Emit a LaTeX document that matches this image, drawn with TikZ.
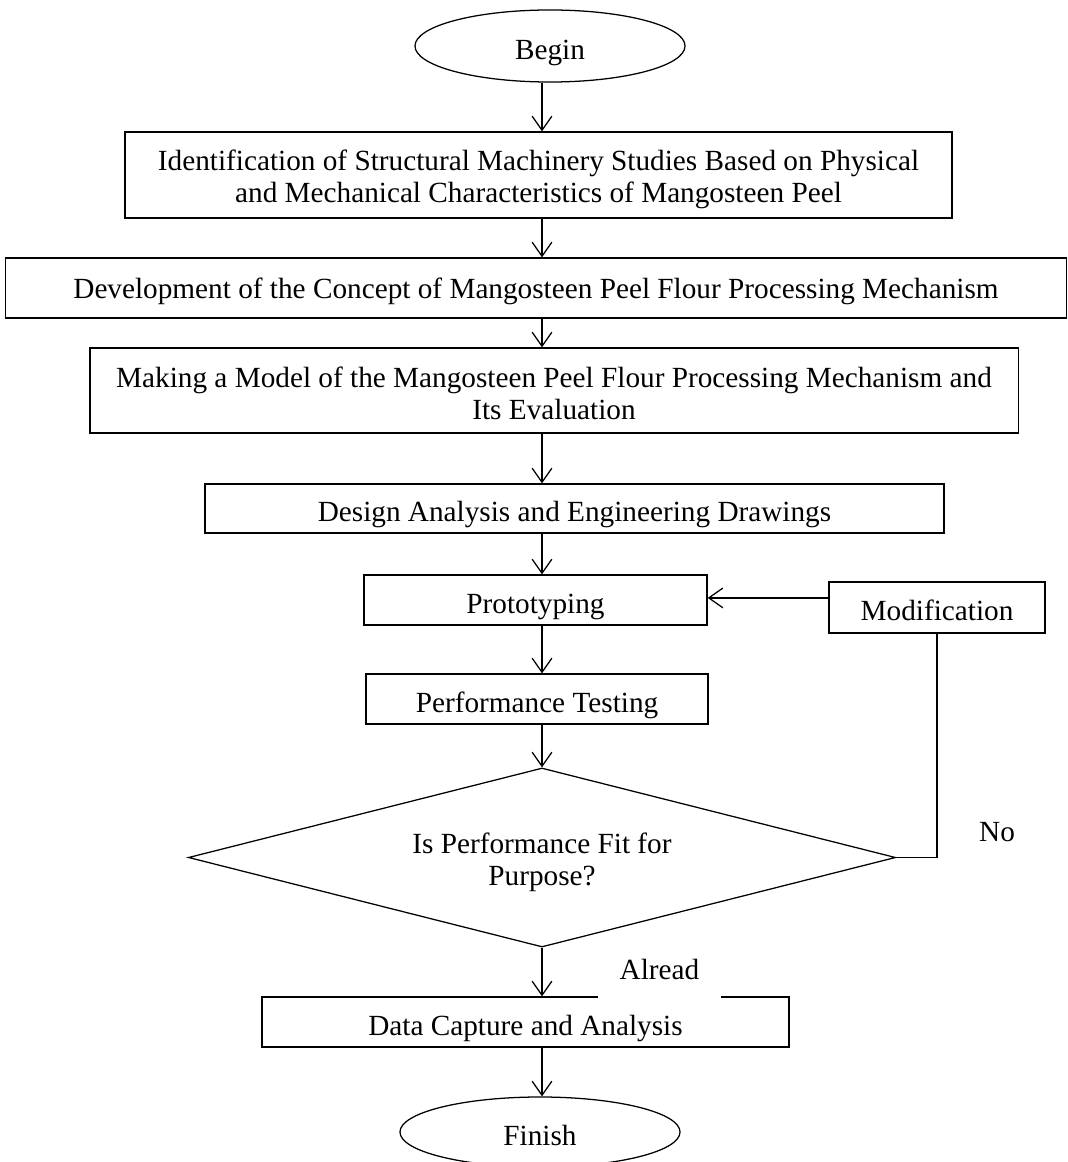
\documentclass[tikz,border=0pt]{standalone}
\usepackage{fontspec}
\setmainfont{Liberation Serif}
\usetikzlibrary{shapes.geometric,arrows.meta}

\begin{document}
\begin{tikzpicture}
	[x=0.025cm,y=-0.025cm,
	font=\fontsize{20.8}{22.8}\selectfont,
	line width=0.9pt,
	box/.style={draw,rectangle,align=center,inner sep=0pt},
	term/.style={draw,ellipse,inner sep=0pt},
	low/.style={text height=18.5pt,text depth=0pt},
	arr/.style={-{Straight Barb[length=10pt,width=14pt]}}]
	\useasboundingbox (0,0) rectangle (1067,1162);
	% main column
	\node[term,low,minimum width=6.75cm,minimum height=1.8cm] (begin) at (550,46) {Begin};
	\node[box,text height=39.8pt,text depth=0pt,minimum width=20.675cm,minimum height=2.15cm] (ident) at (538.5,175)
		{Identification of Structural Machinery Studies Based on Physical\\and Mechanical Characteristics of Mangosteen Peel};
	\node[box,text depth=0pt,minimum width=26.525cm,minimum height=1.5cm] (concept) at (536,288)
		{Development of the Concept of Mangosteen Peel Flour Processing Mechanism};
	\node[box,text height=41.3pt,text depth=0pt,minimum width=23.2cm,minimum height=2.125cm] (model) at (554,390.5)
		{Making a Model of the Mangosteen Peel Flour Processing Mechanism and\\Its Evaluation};
	\node[box,low,minimum width=18.475cm,minimum height=1.225cm] (design) at (574.5,508.5)
		{Design Analysis and Engineering Drawings};
	\node[box,low,minimum width=8.575cm,minimum height=1.25cm] (proto) at (535.5,600) {Prototyping};
	\node[box,low,minimum width=5.4cm,minimum height=1.275cm] (modif) at (937,607.5) {Modification};
	\node[box,low,minimum width=8.55cm,minimum height=1.25cm] (perf) at (537,699) {Performance Testing};
	\node[draw,diamond,aspect=3.95,inner sep=0pt,align=center,text height=40pt,text depth=0pt,
		minimum width=17.675cm,minimum height=4.475cm] (fit) at (542,857.5) {Is Performance Fit for\\Purpose?};
	\node[box,low,minimum width=13.175cm,minimum height=1.25cm] (data) at (525.5,1022) {Data Capture and Analysis};
	\node[term,low,minimum width=7cm,minimum height=1.75cm] (finish) at (540,1132) {Finish};
	% labels
	\node[fill=white,minimum width=3.075cm,minimum height=1.45cm,inner sep=0pt] (yes) at (659.5,969) {Alread};
	\node (no) at (997,832) {No};
	% connectors
	\coordinate (axis) at (542,0);
	\draw[arr] (begin.south -| axis) -- (ident.north -| axis);
	\draw[arr] (ident.south -| axis) -- (concept.north -| axis);
	\draw[arr] (concept.south -| axis) -- (model.north -| axis);
	\draw[arr] (model.south -| axis) -- (design.north -| axis);
	\draw[arr] (design.south -| axis) -- (proto.north -| axis);
	\draw[arr] (proto.south -| axis) -- (perf.north -| axis);
	\draw[arr] (perf.south -| axis) -- (fit.north -| axis);
	\draw[arr] (fit.south) -- (data.north -| fit.south);
	\draw[arr] (data.south -| axis) -- (finish.north -| axis);
	\draw (fit.east) -| (modif.south);
	\coordinate (back) at ([yshift=0.24cm]modif.west);
	\draw[arr] (back) -- (back -| proto.east);
\end{tikzpicture}
\end{document}
